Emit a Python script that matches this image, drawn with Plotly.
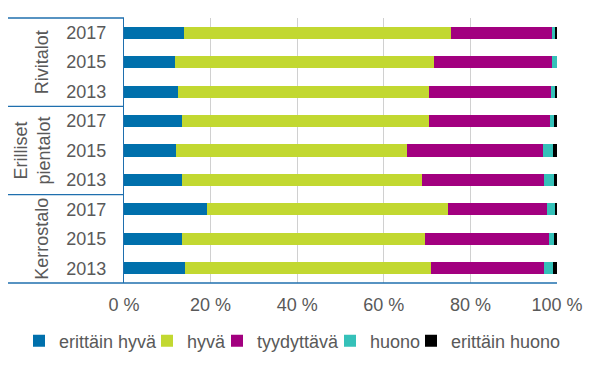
import plotly.graph_objects as go

groups = ["Rivitalot", "Rivitalot", "Rivitalot",
          "Erilliset<br>pientalot", "Erilliset<br>pientalot", "Erilliset<br>pientalot",
          "Kerrostalo", "Kerrostalo", "Kerrostalo"]
years = ["2017", "2015", "2013", "2017", "2015", "2013", "2017", "2015", "2013"]
keys = [f"{g}|{y}" for g, y in zip(groups, years)]

erittain_hyva = [13.8, 11.7, 12.4, 13.5, 11.9, 13.3, 19.1, 13.3, 14.2]
hyva = [61.7, 60.0, 58.1, 57.0, 53.5, 55.6, 55.8, 56.3, 56.8]
tyydyttava = [23.4, 27.2, 28.2, 27.9, 31.4, 28.2, 22.8, 28.6, 26.1]
huono = [0.7, 1.1, 0.9, 0.9, 2.3, 2.2, 2.0, 1.1, 2.0]
erittain_huono = [0.4, 0.0, 0.4, 0.7, 0.9, 0.7, 0.3, 0.7, 0.9]

series_names = ["erittäin hyvä", "hyvä", "tyydyttävä", "huono", "erittäin huono"]
series_values = [erittain_hyva, hyva, tyydyttava, huono, erittain_huono]
series_colors = ["#0070AC", "#C2D831", "#A2007F", "#35C1B9", "#000000"]

x_tickvals = [0, 20, 40, 60, 80, 100]
x_ticktext = ["0 %", "20 %", "40 %", "60 %", "80 %", "100 %"]

font_color = "#595959"
axis_blue = "#1F6FAE"
FS = 18

W, H = 601, 366
ml, mr, mt, mb = 124, 44, 18, 83
pw = W - ml - mr
left_px = 8

# text start positions (px) of each legend entry
legend_text_px = [60, 188, 258, 371, 452]
legend_names = ["legend", "legend2", "legend3", "legend4", "legend5"]

fig = go.Figure()
for name, vals, color, lg in zip(series_names, series_values, series_colors, legend_names):
    fig.add_trace(go.Bar(
        y=keys, x=vals, name=name, orientation="h",
        marker=dict(color=color, line=dict(width=0)),
        legend=lg,
    ))

def px_to_paper_x(px):
    return (px - ml) / pw

legend_layout = {}
for lg, tx in zip(legend_names, legend_text_px):
    legend_layout[lg] = dict(
        orientation="h", xref="container", yref="container",
        x=(tx - 41) / W, xanchor="left",
        y=1 - 341 / H, yanchor="middle",
        font=dict(size=FS, color=font_color),
        bgcolor="rgba(0,0,0,0)", itemwidth=30,
    )

fig.update_layout(
    width=W, height=H,
    margin=dict(l=ml, r=mr, t=mt, b=mb, autoexpand=False),
    barmode="stack",
    bargap=0.59,
    plot_bgcolor="white",
    paper_bgcolor="white",
    font=dict(family="Liberation Sans, Arial", size=FS, color=font_color),
    showlegend=True,
    xaxis=dict(
        range=[0, 100], tickvals=x_tickvals, ticktext=x_ticktext,
        showgrid=True, gridcolor="#D0D0D0", gridwidth=1,
        zeroline=False, showline=False,
        ticks="outside", ticklen=5, tickcolor="rgba(0,0,0,0)",
        tickfont=dict(size=FS, color=font_color),
        fixedrange=True, automargin=False,
    ),
    yaxis=dict(
        categoryorder="array", categoryarray=keys,
        autorange="reversed",
        tickvals=keys, ticktext=years,
        showline=True, linecolor=axis_blue, linewidth=1.3,
        showgrid=False, zeroline=False,
        ticks="outside", ticklen=13, tickcolor="rgba(0,0,0,0)",
        tickfont=dict(size=FS, color=font_color),
        fixedrange=True, automargin=False,
    ),
    **legend_layout,
)

x_left = px_to_paper_x(left_px)
for yy in [1.0, 2/3, 1/3]:
    fig.add_shape(type="line", xref="paper", yref="paper",
                  x0=x_left, x1=0, y0=yy, y1=yy,
                  line=dict(color=axis_blue, width=1.3))
fig.add_shape(type="line", xref="paper", yref="paper",
              x0=x_left, x1=1, y0=0, y1=0,
              line=dict(color=axis_blue, width=1.3))

group_labels = ["Rivitalot", "Erilliset<br>pientalot", "Kerrostalo"]
group_centers = [5/6, 1/2, 1/6]
group_x = [42, 32, 42]
for lab, yc, gx in zip(group_labels, group_centers, group_x):
    fig.add_annotation(text=lab, xref="paper", yref="paper",
                       x=px_to_paper_x(gx), y=yc, textangle=-90,
                       showarrow=False, xanchor="center", yanchor="middle",
                       font=dict(size=FS, color=font_color))

fig.write_html(
    "out.html",
    config={"displayModeBar": False},
    post_script="document.body.style.margin='0';document.body.style.overflow='hidden';",
)
